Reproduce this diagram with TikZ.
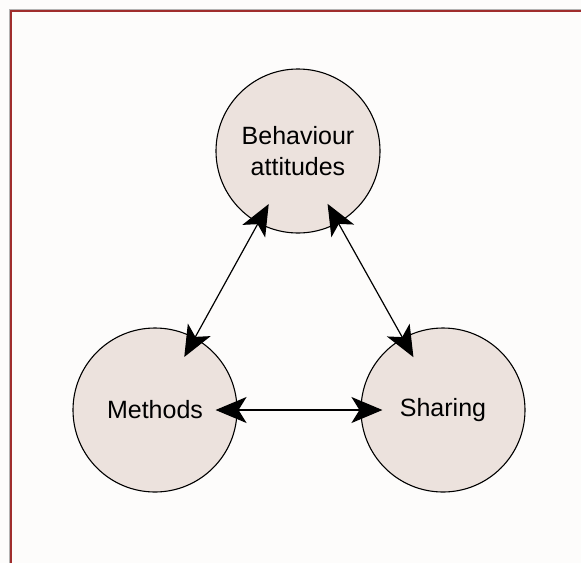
\documentclass[tikz,border=0pt]{standalone}
\usepackage{fontspec}
\setmainfont{Liberation Sans}
\usetikzlibrary{arrows.meta}
\definecolor{discfill}{RGB}{236,226,221}
\definecolor{framered}{RGB}{160,45,45}
\definecolor{pagebg}{RGB}{253,252,251}
\begin{document}
\begin{tikzpicture}[x=1pt,y=-1pt,
  disc/.style={circle, draw=black, line width=1.1pt, fill=discfill,
    minimum size=164pt, inner sep=0pt, align=center,
    font=\fontsize{25}{31}\selectfont},
  link/.style={line width=1.2pt, {Stealth[length=31pt,width=26pt,inset=8pt]}-{Stealth[length=31pt,width=26pt,inset=8pt]},
    shorten <=-22pt, shorten >=-22pt}]
\useasboundingbox (0,0) rectangle (581,563);
\fill[pagebg] (0,0) rectangle (581,563);
% page frame: thin grey shadow and dark red rule
\draw[black!30, line width=0.8pt] (9,563) -- (9,9) -- (581,9);
\draw[framered, line width=1.8pt] (10.7,563) -- (10.7,10.7) -- (581,10.7);
% the three concepts
\node[disc] (beh) at (298,151) {Behaviour\\attitudes};
\node[disc] (met) at (155,410) {Methods};
\node[disc] (sha) at (443,410) {Sharing};
% two-way links
\draw[link] (beh) -- (met);
\draw[link] (beh) -- (sha);
\draw[link] (met) -- (sha);
\end{tikzpicture}
\end{document}
